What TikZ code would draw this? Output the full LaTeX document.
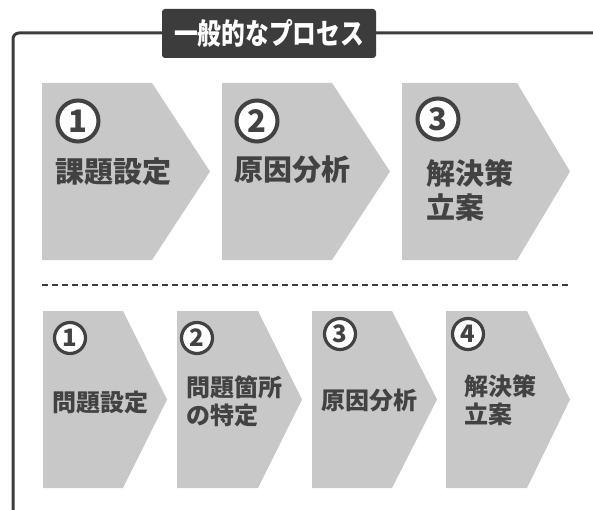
\documentclass[tikz,border=0pt]{standalone}
\usepackage{fontspec}
\newfontfamily\cjk{Noto Sans CJK JP}
\definecolor{chevgray}{HTML}{C8C8C8}
\definecolor{inkgray}{HTML}{424242}
\definecolor{framegray}{HTML}{3C3C3C}
\newcommand\drawchev[5]{% x0, ytop, rectw, tip, h
  \fill[chevgray] (#1,#2) -- ++(#3,0) -- ++(#4,#5/2) -- ++(-#4,#5/2) -- ++(-#3,0) -- cycle;
}
\tikzset{
  ringA/.style={draw=inkgray,fill=white,line width=4pt},
  ringB/.style={draw=inkgray,fill=white,line width=3.2pt},
  numA/.style={inner sep=0pt,text=inkgray,font=\cjk\bfseries\fontsize{31}{31}\selectfont},
  numB/.style={inner sep=0pt,text=inkgray,font=\cjk\bfseries\fontsize{24}{24}\selectfont},
  labelA/.style={anchor=west,inner sep=0pt,text=inkgray,align=left,font=\cjk\bfseries\fontsize{29}{34}\selectfont},
  labelB/.style={anchor=west,inner sep=0pt,text=inkgray,align=left,font=\cjk\bfseries\fontsize{24}{28}\selectfont},
  titlebox/.style={fill=framegray,rounded corners=3pt,text=white,minimum width=214pt,minimum height=49pt,inner sep=0pt,font=\cjk\bfseries\fontsize{29}{29}\selectfont},
}
\begin{document}
\begin{tikzpicture}[x=1pt,y=-1pt]
\useasboundingbox (0,0) rectangle (593,510);
\fill[white] (0,0) rectangle (593,510);
% frame
\draw[framegray,line width=3pt,rounded corners=6pt] (13,512) -- (13,33) -- (595,33);
\node[titlebox] (title) at (269,33.5) {\resizebox{190pt}{\height}{一般的なプロセス}};
% top row
\drawchev{42}{83}{110}{58}{177}
\drawchev{222}{83}{110}{58}{177}
\drawchev{402}{83}{115}{53}{177}
\coordinate (ca1) at (78,121);
\coordinate (ca2) at (257,121);
\coordinate (ca3) at (438,119);
\foreach \c in {ca1,ca2,ca3} \draw[ringA] (\c) circle[radius=20.5pt];
\node[numA] (a1) at (ca1) {1};
\node[numA] (a2) at (ca2) {2};
\node[numA] (a3) at (ca3) {3};
\node[labelA] (ta1) at (55,172) {課題設定};
\node[labelA] (ta2) at (234,170) {原因分析};
\node[labelA] (ta3) at (426,190) {解決策\\立案};
% dashed separator
\draw[framegray,line width=1.5pt,dash pattern=on 6pt off 4pt] (42,285) -- (570,285);
% bottom row
\drawchev{43}{311}{80}{44}{177}
\drawchev{177}{311}{81}{44}{177}
\drawchev{312}{311}{80}{45}{177}
\drawchev{446}{311}{81}{43}{177}
\coordinate (cb1) at (70,338);
\coordinate (cb2) at (197,338);
\coordinate (cb3) at (340,334);
\coordinate (cb4) at (468,334);
\foreach \c in {cb1,cb2,cb3,cb4} \draw[ringB] (\c) circle[radius=15.5pt];
\node[numB] (b1) at (cb1) {1};
\node[numB] (b2) at (cb2) {2};
\node[numB] (b3) at (cb3) {3};
\node[numB] (b4) at (cb4) {4};
\node[labelB] (tb1) at (52,402) {問題設定};
\node[labelB] (tb2) at (186,401) {問題箇所\\の特定};
\node[labelB] (tb3) at (321,400) {原因分析};
\node[labelB] (tb4) at (464,400) {解決策\\立案};
\end{tikzpicture}
\end{document}
